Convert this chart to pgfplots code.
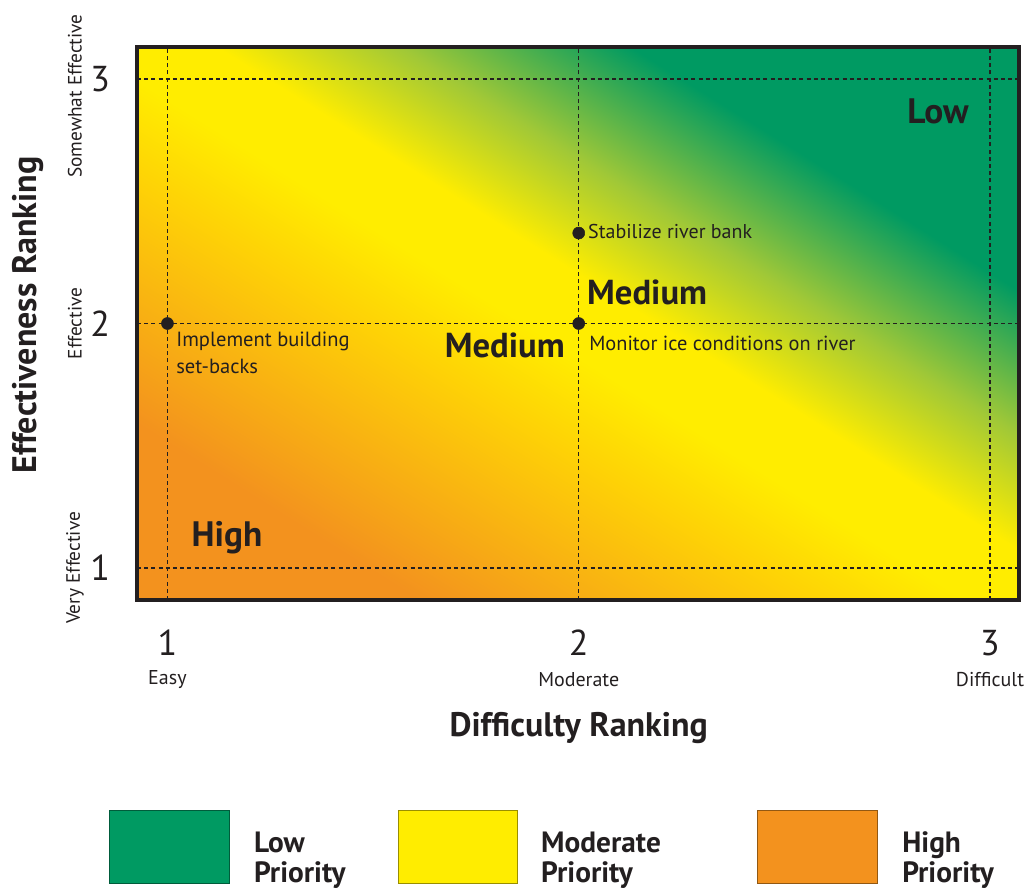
\documentclass[border=0pt]{standalone}
\usepackage{fontspec}
\setmainfont{PT Sans}
\usepackage{pgfplots}
\pgfplotsset{compat=1.18}
\definecolor{txt}{RGB}{35,31,32}
\definecolor{cgreen}{RGB}{0,154,98}
\definecolor{cyellow}{RGB}{255,237,0}
\definecolor{corange}{RGB}{243,146,30}
\begin{document}
\begin{tikzpicture}
\useasboundingbox (-102.75pt,-217.5pt) rectangle (667.5pt,450pt);
\begin{axis}[
  scale only axis, width=661.5pt, height=414.75pt,
  xmin=0.926, xmax=3.0705, ymin=0.869, ymax=3.131,
  clip=false, axis on top,
  colormap={prio}{rgb255(0)=(243,146,30) rgb255(160)=(243,146,30) rgb255(380)=(254,210,6) rgb255(470)=(255,237,0) rgb255(545)=(255,237,0) rgb255(650)=(160,200,55) rgb255(780)=(0,154,98) rgb255(1000)=(0,154,98)},
  point meta min=0, point meta max=1,
  xtick={1,2,3}, ytick={1,2,3}, xticklabels={1,2,3}, yticklabels={1,2,3},
  major tick length=0pt,
  grid=major, grid style={txt, line width=0.9pt, dash pattern=on 3pt off 2.4pt},
  axis line style={txt, line width=2.6pt},
  ticklabel style={font=\fontsize{27}{30}\selectfont, text=txt, inner sep=0pt},
  xticklabel style={anchor=north, yshift=-22.5pt},
  yticklabel style={anchor=east, xshift=-20pt},
]
\addplot[surf, shader=interp, mesh/cols=5, point meta=explicit] table[meta=c] {
x y c
0.926 0.869 0
1.4621 0.869 0.125
1.9983 0.869 0.25
2.5344 0.869 0.375
3.0705 0.869 0.5

0.926 1.4345 0.125
1.4621 1.4345 0.25
1.9983 1.4345 0.375
2.5344 1.4345 0.5
3.0705 1.4345 0.625

0.926 2.0 0.25
1.4621 2.0 0.375
1.9983 2.0 0.5
2.5344 2.0 0.625
3.0705 2.0 0.75

0.926 2.5655 0.375
1.4621 2.5655 0.5
1.9983 2.5655 0.625
2.5344 2.5655 0.75
3.0705 2.5655 0.875

0.926 3.131 0.5
1.4621 3.131 0.625
1.9983 3.131 0.75
2.5344 3.131 0.875
3.0705 3.131 1
};
\addplot[only marks, mark=*, mark size=4.5pt, txt] coordinates {(1,2) (2,2) (2,2.37)};

% annotations
\node[anchor=north west, inner sep=0pt, align=left, text=txt, font=\fontsize{15.4}{20}\selectfont] at (axis cs:1.021,1.967) {Implement building\\set-backs};
\node[anchor=west, inner sep=0pt, text=txt, font=\fontsize{15}{20}\selectfont] at (axis cs:2.0225,2.375) {Stabilize river bank};
\node[anchor=west, inner sep=0pt, text=txt, font=\fontsize{15.3}{20}\selectfont] at (axis cs:2.025,1.92) {Monitor ice conditions on river};
\node[anchor=west, inner sep=0pt, text=txt, font=\fontsize{26}{28}\selectfont\bfseries] at (axis cs:2.02,2.127) {Medium};
\node[anchor=east, inner sep=0pt, text=txt, font=\fontsize{26}{28}\selectfont\bfseries] at (axis cs:1.9666,1.912) {Medium};
\node[inner sep=0pt, text=txt, font=\fontsize{26.5}{29}\selectfont\bfseries] at (axis cs:2.8736,2.869) {Low};
\node[inner sep=0pt, text=txt, font=\fontsize{26.5}{29}\selectfont\bfseries] at (axis cs:1.1447,1.125) {High};

% tick descriptors
\node[inner sep=0pt, text=txt, font=\fontsize{15}{18}\selectfont] at (axis cs:1,0.542) {Easy};
\node[inner sep=0pt, text=txt, font=\fontsize{15}{18}\selectfont] at (axis cs:2,0.542) {Moderate};
\node[inner sep=0pt, text=txt, font=\fontsize{15}{18}\selectfont] at (axis cs:3,0.542) {Difficult};
\node[rotate=90, inner sep=0pt, text=txt, font=\fontsize{14.5}{18}\selectfont] at (axis cs:0.775,1) {Very Effective};
\node[rotate=90, inner sep=0pt, text=txt, font=\fontsize{14.5}{18}\selectfont] at (axis cs:0.775,2) {Effective};
\node[rotate=90, inner sep=0pt, text=txt, font=\fontsize{14.5}{18}\selectfont] at (axis cs:0.775,2.93) {Somewhat Effective};

% axis titles
\node[inner sep=0pt, text=txt, font=\fontsize{25.5}{28}\selectfont\bfseries] at (axis cs:2.0,0.346) {Difficulty Ranking};
\node[rotate=90, inner sep=0pt, text=txt, font=\fontsize{25.5}{28}\selectfont\bfseries] at (axis cs:0.661,2.035) {Effectiveness Ranking};

% legend
\draw[fill=cgreen, draw=cgreen!60!black, line width=0.6pt] (axis cs:0.8578,0.0102) rectangle (axis cs:1.1495,-0.2883);
\draw[fill=cyellow, draw=cyellow!60!black, line width=0.6pt] (axis cs:1.5605,0.0102) rectangle (axis cs:1.8499,-0.2883);
\draw[fill=corange, draw=corange!60!black, line width=0.6pt] (axis cs:2.4334,0.0102) rectangle (axis cs:2.7252,-0.2883);
\node[anchor=west, inner sep=0pt, align=left, text=txt, font=\fontsize{22}{22.5}\selectfont\bfseries] at (axis cs:1.210,-0.195) {Low\\Priority};
\node[anchor=west, inner sep=0pt, align=left, text=txt, font=\fontsize{22}{22.5}\selectfont\bfseries] at (axis cs:1.908,-0.195) {Moderate\\Priority};
\node[anchor=west, inner sep=0pt, align=left, text=txt, font=\fontsize{22}{22.5}\selectfont\bfseries] at (axis cs:2.786,-0.195) {High\\Priority};
\end{axis}
\end{tikzpicture}
\end{document}
